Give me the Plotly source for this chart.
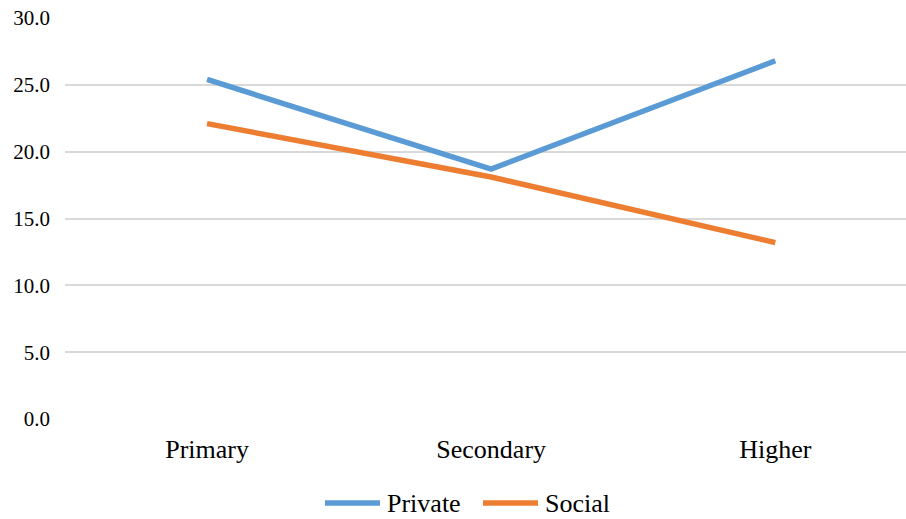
import plotly.graph_objects as go

# Education levels and returns (%) by perspective
levels = ["Primary", "Secondary", "Higher"]
private_returns = [25.4, 18.7, 26.8]
social_returns = [22.1, 18.1, 13.2]

series_names = ["Private", "Social"]
series_values = [private_returns, social_returns]
series_colors = ["#5B9BD5", "#ED7D31"]

FONT = "Liberation Serif"
LINE_W = 5.5

fig = go.Figure()
for name, vals, col in zip(series_names, series_values, series_colors):
    fig.add_trace(go.Scatter(
        x=levels, y=vals, mode="lines", name=name,
        line=dict(color=col, width=LINE_W),
        showlegend=False,
    ))

# Plot-area geometry (pixels) used to place the legend below the axes
W, H = 906, 519
L, R, T, B = 65, 0, 18, 100
pw, ph = W - L - R, H - T - B

def px_x(px):
    return (px - L) / pw

def px_y(py):
    return (H - B - py) / ph

# Legend row: line swatch followed by the series name
legend_y = px_y(503)
swatch_starts = [325, 483]
swatch_len = 55
text_gap = 5
shapes, annotations = [], []
for name, col, x0 in zip(series_names, series_colors, swatch_starts):
    shapes.append(dict(
        type="line", xref="paper", yref="paper",
        x0=px_x(x0), x1=px_x(x0 + swatch_len), y0=legend_y, y1=legend_y,
        line=dict(color=col, width=LINE_W),
    ))
    annotations.append(dict(
        xref="paper", yref="paper", x=px_x(x0 + swatch_len + text_gap), y=legend_y,
        xanchor="left", yanchor="middle", text=name, showarrow=False,
        font=dict(family=FONT, size=26, color="#000000"),
    ))

fig.update_layout(
    width=W, height=H,
    margin=dict(l=L, r=R, t=T, b=B),
    paper_bgcolor="white", plot_bgcolor="white",
    font=dict(family=FONT, color="#000000"),
    showlegend=False,
    shapes=shapes,
    annotations=annotations,
    xaxis=dict(
        type="category", range=[-0.5, 2.46],
        showgrid=False, zeroline=False, showline=False,
        tickfont=dict(family=FONT, size=26, color="#000000"),
        ticks="", ticklabelstandoff=12,
    ),
    yaxis=dict(
        range=[0, 30], tick0=0, dtick=5, tickformat=".1f",
        showgrid=True, gridcolor="#D9D9D9", gridwidth=1.5,
        zeroline=False, showline=False,
        tickfont=dict(family=FONT, size=21, color="#000000"),
        ticks="", ticklabelstandoff=14,
    ),
)

fig.write_html("out.html")
